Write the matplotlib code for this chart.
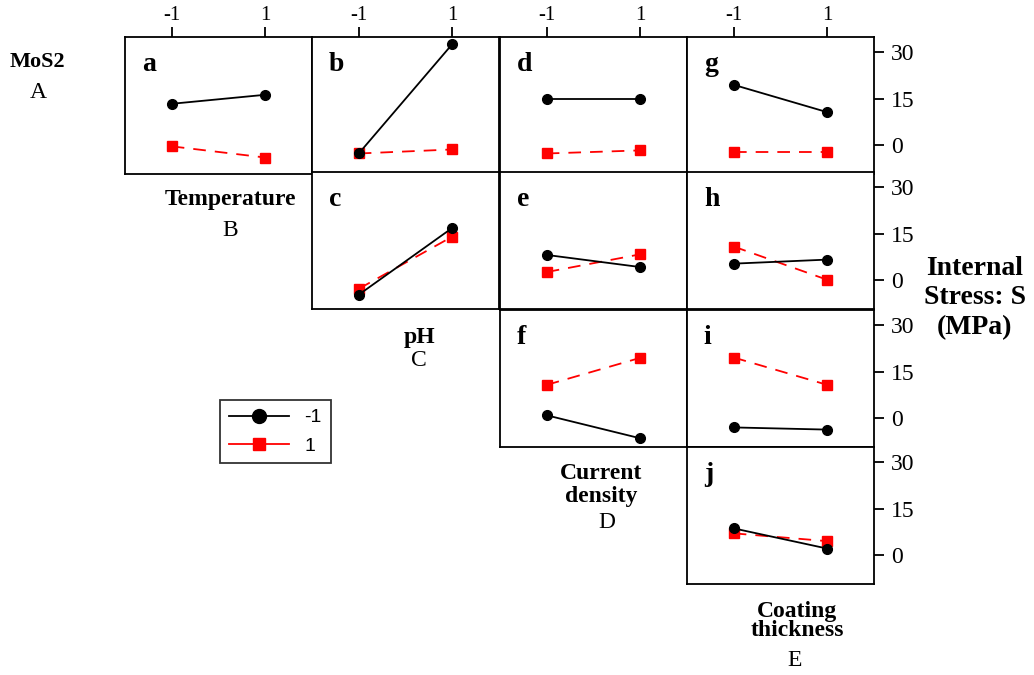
import matplotlib
matplotlib.use("Agg")
import matplotlib.pyplot as plt
from matplotlib.lines import Line2D

plt.rcParams['font.family'] = ['Liberation Serif', 'DejaVu Serif']

# factor levels on every x axis
levels = [-1, 1]

# interaction means (MPa): black = level -1 of the row factor, red = level +1
panel_names = ['a', 'b', 'd', 'g', 'c', 'e', 'h', 'f', 'i', 'j']
panel_cells = [(0, 0), (0, 1), (0, 2), (0, 3),
               (1, 1), (1, 2), (1, 3),
               (2, 2), (2, 3),
               (3, 3)]
low_series = [[13.4, 16.3], [-2.6, 32.6], [15.0, 15.0], [19.5, 10.7],
              [-4.6, 16.9], [8.2, 4.3], [5.4, 6.7],
              [1.0, -6.4], [-2.9, -3.6],
              [8.7, 2.2]]
high_series = [[-0.3, -3.9], [-2.6, -1.3], [-2.6, -1.6], [-2.2, -2.2],
               [-2.7, 14.1], [2.7, 8.4], [10.9, 0.2],
               [10.8, 19.5], [19.6, 10.8],
               [7.1, 4.6]]

y_ticks = [0, 15, 30]
legend_labels = ['-1', '1']

W, H = 1034, 675
fig = plt.figure(figsize=(W / 100, H / 100), dpi=100)

col_left = [125, 312, 500, 687]
col_w = 187
row_top = [37, 172, 310, 447]
row_h = 137

for name, (r, c), lo, hi in zip(panel_names, panel_cells, low_series, high_series):
    x0 = col_left[c]
    y0 = row_top[r]
    ax = fig.add_axes([x0 / W, 1 - (y0 + row_h) / H, col_w / W, row_h / H])
    ax.plot(levels, lo, color='black', lw=1.3, marker='o', ms=7, zorder=3)
    ax.plot(levels, hi, color='red', lw=1.3, marker='s', ms=7,
            dashes=(7, 5), zorder=2)
    ax.set_xlim(-2.0, 2.0)
    ax.set_ylim(-9.2, 34.9)
    for s in ax.spines.values():
        s.set_linewidth(1.3)
    ax.text(0.09, 0.80, name, transform=ax.transAxes, fontsize=20,
            fontweight='bold', va='center', ha='left')
    ax.set_xticks([])
    ax.set_yticks([])
    if r == 0:
        ax.xaxis.tick_top()
        ax.set_xticks(levels)
        ax.set_xticklabels([str(v) for v in levels])
        ax.tick_params(axis='x', direction='out', length=7, width=1.3,
                       labelsize=15, pad=1.5)
    if c == 3:
        ax.yaxis.tick_right()
        ax.set_yticks(y_ticks)
        ax.tick_params(axis='y', direction='out', length=7, width=1.3,
                       labelsize=17, pad=5)

def ftext(x, y, s, bold=False, size=17, ls=0.85):
    fig.text(x / W, 1 - y / H, s, ha='center', va='center', fontsize=size,
             fontweight='bold' if bold else 'normal', linespacing=ls)

ftext(37, 62, 'MoS2', bold=True, size=16)
ftext(38, 92, 'A')
ftext(230, 200, 'Temperature', bold=True)
ftext(230, 231, 'B')
ftext(419, 337, 'pH', bold=True)
ftext(419, 360, 'C')
ftext(601, 485, 'Current\ndensity', bold=True, ls=1.12)
ftext(607, 523, 'D')
ftext(797, 621, 'Coating\nthickness', bold=True)
ftext(795, 661, 'E')
ftext(975, 298, 'Internal\nStress: S\n(MPa)', bold=True, size=20, ls=1.25)

handles = [Line2D([], [], color='black', lw=1.3, marker='o', ms=10),
           Line2D([], [], color='red', lw=1.3, marker='s', ms=9)]
leg = fig.legend(handles, legend_labels, loc='upper left',
                 bbox_to_anchor=(220 / W, 1 - 400 / H), frameon=True,
                 fancybox=False, edgecolor='black', handlelength=3.1,
                 borderpad=0.45, labelspacing=0.55, handletextpad=0.8,
                 borderaxespad=0,
                 prop={'family': 'Liberation Sans', 'size': 14})
leg.get_frame().set_linewidth(1.3)

fig.savefig('out.png', dpi=100)
